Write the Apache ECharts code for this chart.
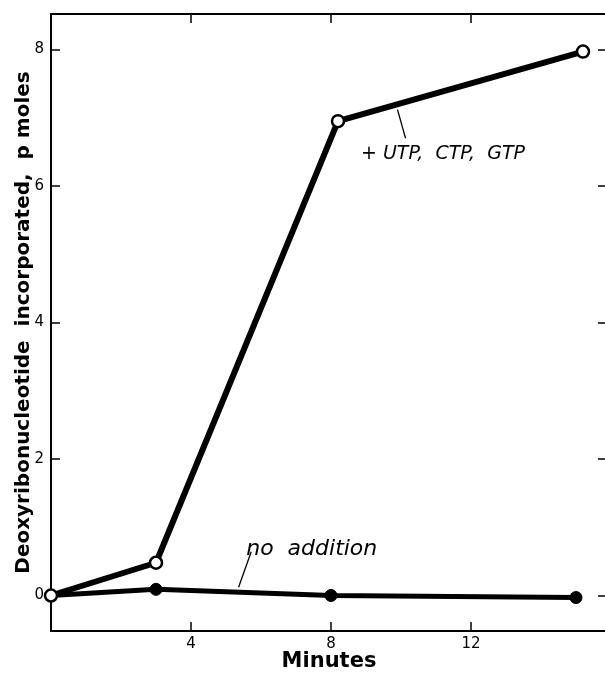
<!DOCTYPE html>
<html><head><meta charset="utf-8">
<script src="https://cdn.jsdelivr.net/npm/echarts@6/dist/echarts.min.js"></script>
<style>html,body{margin:0;padding:0;background:#fff}#c{width:605px;height:673px}</style>
</head><body><div id="c"></div>
<script>
const xTicks = [4, 8, 12];
const yTicks = [0, 2, 4, 6, 8];
const minutesNTP = [0, 3, 8.2, 15.2];
const valuesNTP = [0, 0.48, 6.95, 7.97];
const minutesNone = [0, 3, 8, 15];
const valuesNone = [0, 0.09, 0, -0.03];
const labelNTP = '+ UTP,  CTP,  GTP';
const labelNone = 'no  addition';

const chart = echarts.init(document.getElementById('c'));
const font = 'DejaVu Sans';
const axisLine = {show: true, onZero: false, lineStyle: {color: '#000', width: 2}};
const tickStyle = (vals) => ({show: true, inside: true, length: 9, customValues: vals, lineStyle: {color: '#000', width: 1.5}});
const textMark = (coord, text, size) => ({
  symbol: 'circle', symbolSize: 1, itemStyle: {color: 'rgba(0,0,0,0)'},
  data: [{coord: coord, value: 0}],
  label: {show: true, position: 'inside', formatter: text, fontFamily: font, fontSize: size, fontStyle: 'italic', color: '#000'}
});

chart.setOption({
  animation: false,
  backgroundColor: '#fff',
  grid: {left: 51, right: -2, top: 14, bottom: 42, containLabel: false, outerBoundsMode: 'none'},
  xAxis: [{
    type: 'value', min: 0, max: 15.886,
    name: 'Minutes', nameLocation: 'middle', nameGap: 20, nameMoveOverlap: false,
    nameTextStyle: {fontFamily: font, fontSize: 21, fontWeight: 'bold', color: '#000'},
    axisLine, axisTick: tickStyle(xTicks), splitLine: {show: false},
    axisLabel: {customValues: xTicks, margin: 6, fontFamily: font, fontSize: 15, color: '#000'}
  }, {
    type: 'value', min: 0, max: 15.886, position: 'top',
    axisLine, axisTick: tickStyle(xTicks), splitLine: {show: false}, axisLabel: {show: false}
  }],
  yAxis: [{
    type: 'value', min: -0.52, max: 8.52,
    name: 'Deoxyribonucleotide  incorporated,  p moles', nameLocation: 'middle', nameGap: 17, nameMoveOverlap: false,
    nameTextStyle: {fontFamily: font, fontSize: 20, fontWeight: 'bold', color: '#000'},
    axisLine, axisTick: tickStyle(yTicks), splitLine: {show: false},
    axisLabel: {customValues: yTicks, margin: 7, fontFamily: font, fontSize: 15, color: '#000'}
  }, {
    type: 'value', min: -0.52, max: 8.52, position: 'right',
    axisLine, axisTick: tickStyle(yTicks), splitLine: {show: false}, axisLabel: {show: false}
  }],
  series: [{
    type: 'line',
    data: minutesNone.map((m, i) => [m, valuesNone[i]]),
    lineStyle: {color: '#000', width: 5},
    symbol: 'circle', symbolSize: 12,
    itemStyle: {color: '#000', borderColor: '#000', borderWidth: 1},
    markPoint: textMark([7.45, 0.68], labelNone, 22),
    markLine: {
      symbol: 'none', silent: true,
      lineStyle: {color: '#000', width: 1.3, type: 'solid'},
      label: {show: false},
      data: [[{coord: [5.72, 0.64]}, {coord: [5.36, 0.12]}]]
    }
  }, {
    type: 'line',
    data: minutesNTP.map((m, i) => [m, valuesNTP[i]]),
    lineStyle: {color: '#000', width: 6},
    symbol: 'circle', symbolSize: 12,
    itemStyle: {color: '#fff', borderColor: '#000', borderWidth: 2.5},
    markPoint: textMark([11.2, 6.47], labelNTP, 19),
    markLine: {
      symbol: 'none', silent: true,
      lineStyle: {color: '#000', width: 1.3, type: 'solid'},
      label: {show: false},
      data: [[{coord: [9.9, 7.12]}, {coord: [10.13, 6.7]}]]
    }
  }]
});
</script></body></html>
